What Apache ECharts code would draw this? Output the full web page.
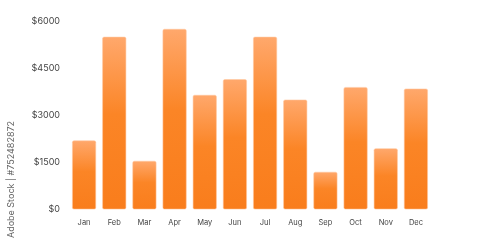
<!DOCTYPE html>
<html><head><meta charset="utf-8">
<script src="https://cdn.jsdelivr.net/npm/echarts@6/dist/echarts.min.js"></script>
<style>html,body{margin:0;padding:0;background:#fff}#c{width:500px;height:242px}</style>
</head><body><div id="c"></div>
<script>
const categories = ['Jan','Feb','Mar','Apr','May','Jun','Jul','Aug','Sep','Oct','Nov','Dec'];
const values = [2200, 5500, 1550, 5750, 3650, 4150, 5500, 3500, 1200, 3900, 1950, 3850];
const yTicks = [0, 1500, 3000, 4500, 6000];

const chart = echarts.init(document.getElementById('c'), null, {renderer: 'canvas'});
chart.setOption({
  animation: false,
  backgroundColor: '#fff',
  grid: {left: 69, right: 69, top: 21, bottom: 32.5},
  xAxis: {
    type: 'category', data: categories,
    axisLine: {show: false}, axisTick: {show: false},
    axisLabel: {color: '#444', fontSize: 7.5, fontFamily: 'Inter', margin: 9}
  },
  yAxis: {
    type: 'value', min: yTicks[0], max: yTicks[yTicks.length - 1], interval: 1500,
    splitLine: {show: false}, axisLine: {show: false}, axisTick: {show: false},
    axisLabel: {color: '#444', fontSize: 9, fontFamily: 'Inter', margin: 9,
      formatter: v => '$' + v}
  },
  series: [{
    type: 'bar', data: values, barCategoryGap: '20%',
    itemStyle: {
      borderRadius: 1.5,
      borderColor: 'rgba(255,200,160,0.7)', borderWidth: 0.8,
      color: new echarts.graphic.LinearGradient(0, 0, 0, 1, [
        {offset: 0, color: '#FFA86C'},
        {offset: 0.45, color: '#FB8526'},
        {offset: 1, color: '#F97D1C'}
      ])
    }
  }],
  graphic: [{
    type: 'text', x: 11, y: 179.5, rotation: Math.PI / 2,
    style: {text: 'Adobe Stock | #752482872', fill: '#666', fontSize: 9,
      fontFamily: 'Inter', align: 'center', verticalAlign: 'middle'}
  }]
});
</script></body></html>
